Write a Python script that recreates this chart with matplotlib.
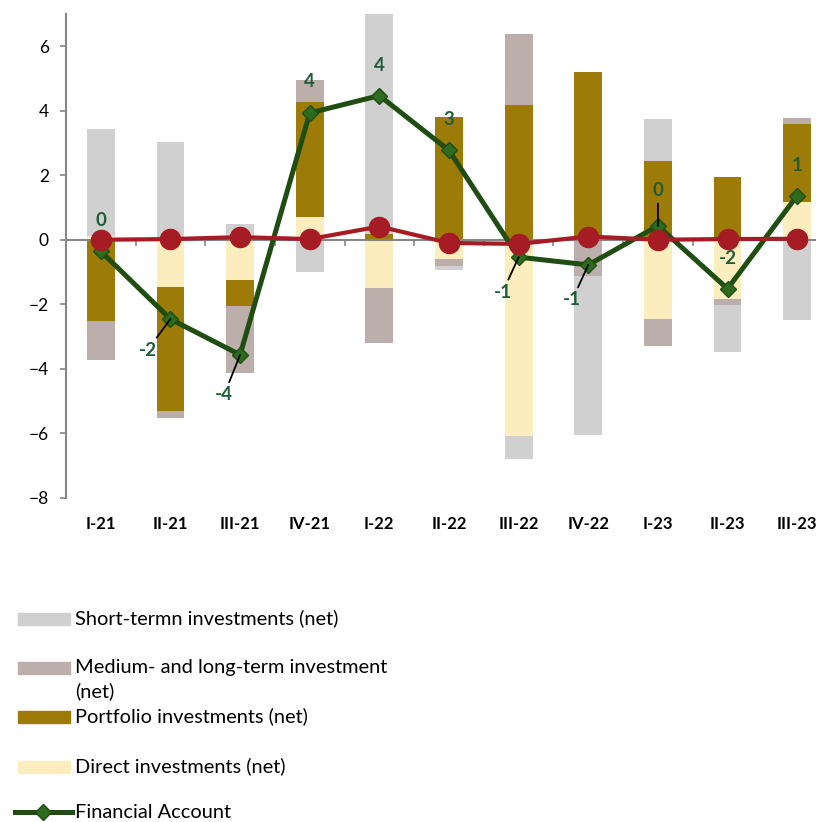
import numpy as np
import matplotlib.pyplot as plt
from matplotlib.patches import Rectangle
from matplotlib.lines import Line2D

plt.rcParams['font.family'] = ['Lato', 'DejaVu Sans']

# DATA
quarters = ["I-21", "II-21", "III-21", "IV-21", "I-22", "II-22",
            "III-22", "IV-22", "I-23", "II-23", "III-23"]
direct = [0.12, -1.47, -1.26, 0.69, -1.51, -0.59, -6.08, 0.00, -2.46, -1.84, 1.17]
portfolio = [-2.52, -3.83, -0.81, 3.57, 0.19, 3.81, 4.17, 5.19, 2.45, 1.94, 2.41]
medium_long = [-1.21, -0.23, -2.07, 0.68, -1.70, -0.21, 2.22, -1.12, -0.85, -0.18, 0.20]
short_term = [3.30, 3.03, 0.49, -1.01, 6.85, -0.15, -0.72, -4.95, 1.30, -1.47, -2.48]
financial = [-0.36, -2.46, -3.57, 3.93, 4.47, 2.77, -0.54, -0.78, 0.43, -1.52, 1.37]
other = [0.00, 0.02, 0.08, 0.02, 0.41, -0.10, -0.13, 0.10, 0.00, 0.02, 0.03]

c_short = "#D0D0D0"
c_medium = "#BCAEAA"
c_portfolio = "#9C7B08"
c_direct = "#FCEDBF"
c_fin = "#1F4D12"
c_fin_marker = "#2E6B1E"
c_red = "#A51C24"
c_label = "#1F5C3A"
c_axis = "#868686"

W, H = 816, 822
fig = plt.figure(figsize=(W / 100, H / 100), dpi=100)
ax = fig.add_axes([66 / W, 1 - 497.7 / H, (832 - 66) / W, (497.7 - 14) / H])

x = np.arange(len(quarters))
width = 0.40

# stacked bars: positives and negatives stacked separately (Excel style)
pos_bottom = np.zeros(len(x))
neg_bottom = np.zeros(len(x))
for vals, color in [(direct, c_direct), (portfolio, c_portfolio),
                    (medium_long, c_medium), (short_term, c_short)]:
    vals = np.array(vals)
    bottom = np.where(vals >= 0, pos_bottom, neg_bottom)
    ax.bar(x, vals, width, bottom=bottom, color=color, zorder=2)
    pos_bottom += np.clip(vals, 0, None)
    neg_bottom += np.clip(vals, None, 0)

ax.plot(x, financial, color=c_fin, lw=3.6, marker="D", ms=8,
        mfc=c_fin_marker, mec=c_fin, zorder=4)
ax.plot(x, other, color=c_red, lw=3, marker="o", ms=14.5, zorder=5)

# data labels for the financial account (offsets in pixels, image y down)
offsets = [(0, -31, False), (-23, 31, True), (-16, 40, True), (0, -31, False),
           (0, -30, False), (0, -31, False), (-16, 35, True), (-16, 35, True),
           (0, -35, True), (0, -30, False), (0, -30, False)]
for xi, v, (dx, dy, leader) in zip(x, financial, offsets):
    arrow = dict(arrowstyle="-", color="black", lw=1.3, shrinkA=1, shrinkB=0) if leader else None
    ax.annotate(f"{int(round(v))}", (xi, v), xytext=(dx * 0.72, -dy * 0.72),
                textcoords="offset points", ha="center", va="center",
                fontsize=13.5, fontweight="bold", color=c_label,
                arrowprops=arrow, zorder=6)

ax.set_xlim(-0.5, len(x) - 0.5)
ax.set_ylim(-8, 7)
ax.set_yticks(np.arange(-8, 7, 2))
ax.tick_params(axis="y", direction="out", length=4.3, width=1.2, color=c_axis,
               pad=8, labelsize=12.5)
ax.set_xticks(x, quarters)
ax.tick_params(axis="x", length=0, pad=13, labelsize=12)
for lab in ax.get_xticklabels():
    lab.set_fontweight("bold")
for s in ["top", "right", "bottom"]:
    ax.spines[s].set_visible(False)
ax.spines["left"].set_color(c_axis)
ax.spines["left"].set_linewidth(1.5)

# category axis drawn at zero
zero_ax = ax.secondary_xaxis(0, transform=ax.transData)
zero_ax.set_zorder(3)
zero_ax.set_xticks(np.arange(0.5, len(x) - 0.5, 1))
zero_ax.set_xticklabels([])
zero_ax.tick_params(direction="out", length=4.3, width=1.2, color=c_axis)
zero_ax.spines["bottom"].set_color(c_axis)
zero_ax.spines["bottom"].set_linewidth(1.5)

# legend, laid out like the Excel one
legend_items = [("Short-termn investments (net)", c_short, 618.7),
                ("Medium- and long-term investment\n(net)", c_medium, 668),
                ("Portfolio investments (net)", c_portfolio, 716.7),
                ("Direct investments (net)", c_direct, 766.7)]
for label, color, yc in legend_items:
    fig.add_artist(Rectangle((18 / W, 1 - (yc + 6) / H), 52 / W, 12 / H,
                             color=color, transform=fig.transFigure))
    fig.text(75 / W, 1 - (yc - 9) / H, label, fontsize=14.4, va="top",
             ha="left", linespacing=1.4)
yf = 812
fig.add_artist(Line2D([15 / W, 72 / W], [1 - yf / H] * 2, color=c_fin, lw=3.6,
                      transform=fig.transFigure))
fig.add_artist(Line2D([43 / W], [1 - yf / H], marker="D", ms=8, mfc=c_fin_marker,
                      mec=c_fin, transform=fig.transFigure))
fig.text(75 / W, 1 - 821 / H, "Financial Account", fontsize=14.4, va="bottom", ha="left")

fig.savefig("out.png", dpi=100)
